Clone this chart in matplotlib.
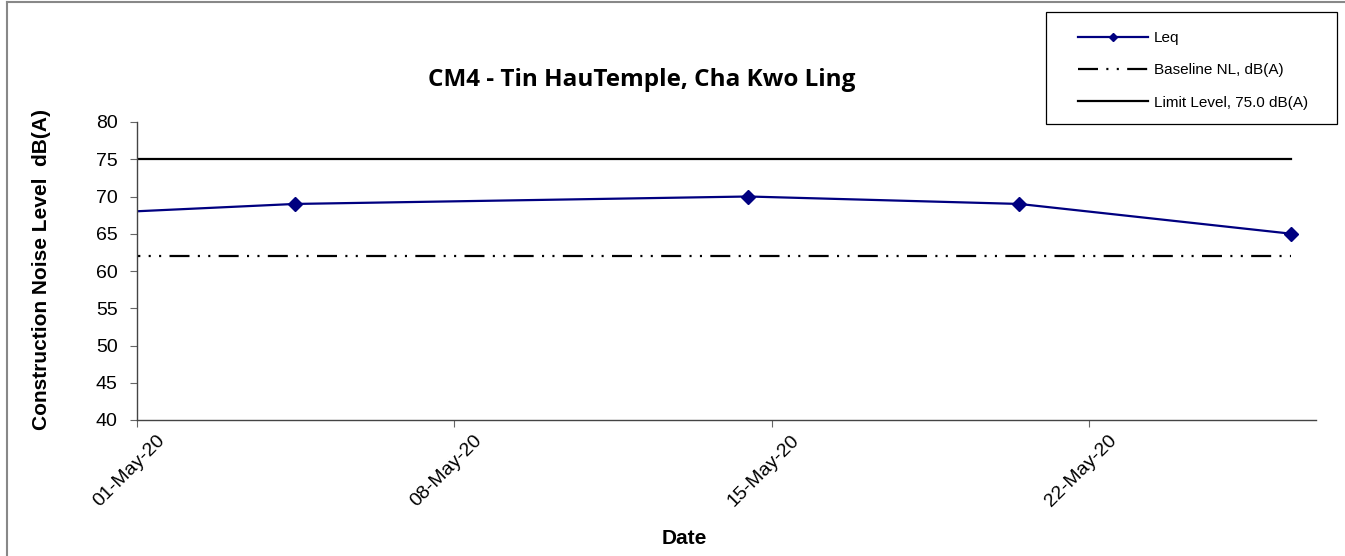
import matplotlib
matplotlib.use("Agg")
import matplotlib.pyplot as plt
import matplotlib.dates as mdates
import matplotlib.transforms as mtransforms
from matplotlib.lines import Line2D
from matplotlib.patches import Rectangle
import pandas as pd

plt.rcParams['font.family'] = ['Liberation Sans', 'DejaVu Sans']
plt.rcParams['lines.scale_dashes'] = False

# monitoring data (first visit falls before the axis start and is clipped)
dates = pd.to_datetime(['2020-04-28 11:00', '2020-05-04 11:30', '2020-05-14 11:30',
                        '2020-05-20 11:00', '2020-05-26 11:00'])
leq = [67.3, 69, 70, 69, 65]
baseline = [62, 62, 62, 62, 62]
limit = [75, 75, 75, 75, 75]

fig = plt.figure(figsize=(13.45, 5.56), dpi=100)
ax = fig.add_axes([137 / 1345, 136 / 556, 1179 / 1345, 298 / 556])

ax.plot(dates, leq, color='#000080', lw=1.6, marker='D', ms=7, label='Leq')
ax.plot(dates, baseline, color='black', lw=1.6,
        dashes=(14.4, 6, 1.5, 6, 1.5, 6), label='Baseline NL, dB(A)')
ax.plot(dates, limit, color='black', lw=1.6, label='Limit Level, 75.0 dB(A)')

ax.set_xlim(pd.Timestamp('2020-05-01'), pd.Timestamp('2020-05-27'))
ax.set_ylim(40, 80)
ax.set_yticks(range(40, 81, 5))
ax.xaxis.set_major_locator(mdates.DayLocator(bymonthday=[1, 8, 15, 22]))
ax.xaxis.set_major_formatter(mdates.DateFormatter('%d-%b-%y'))

for s in ['top', 'right']:
    ax.spines[s].set_visible(False)
for s in ['left', 'bottom']:
    ax.spines[s].set_color('#444444')
    ax.spines[s].set_linewidth(1.0)
ax.tick_params(axis='both', direction='out', length=5, color='#666666', labelsize=14)
ax.tick_params(axis='y', pad=9)

offset = mtransforms.ScaledTranslation(25 / 100, -6 / 100, fig.dpi_scale_trans)
for lbl in ax.get_xticklabels():
    lbl.set_rotation(45)
    lbl.set_ha('right')
    lbl.set_va('center')
    lbl.set_rotation_mode('anchor')
    lbl.set_transform(lbl.get_transform() + offset)

fig.text(42 / 1345, 1 - 270 / 556, 'Construction Noise Level  dB(A)', rotation=90,
         ha='center', va='center', fontsize=15, fontweight='bold')
fig.text(684 / 1345, 1 - 538 / 556, 'Date', ha='center', va='center',
         fontsize=15, fontweight='bold')
fig.text(642 / 1345, 1 - 80 / 556, 'CM4 - Tin HauTemple, Cha Kwo Ling', ha='center',
         va='center', fontsize=17.5, fontweight='bold', family=['Open Sans', 'DejaVu Sans'])

# legend box
fig.patches.append(Rectangle((1046 / 1345, 1 - 124 / 556), 291 / 1345, 112 / 556,
                             transform=fig.transFigure, fill=False, ec='black', lw=0.9))
fig.legend(loc='upper left', bbox_to_anchor=(1078 / 1345, 1 - 31 / 556), frameon=False,
           fontsize=11, handlelength=4.6, handletextpad=0.35, labelspacing=1.2,
           borderpad=0, borderaxespad=0, markerscale=0.6)

# outer chart border
fig.add_artist(Line2D([7 / 1345, 7 / 1345], [0, 1 - 2 / 556], transform=fig.transFigure,
                      color='#888888', lw=1.5))
fig.add_artist(Line2D([7 / 1345, 1], [1 - 2 / 556, 1 - 2 / 556], transform=fig.transFigure,
                      color='#888888', lw=1.5))

fig.savefig('out.png', dpi=100)
